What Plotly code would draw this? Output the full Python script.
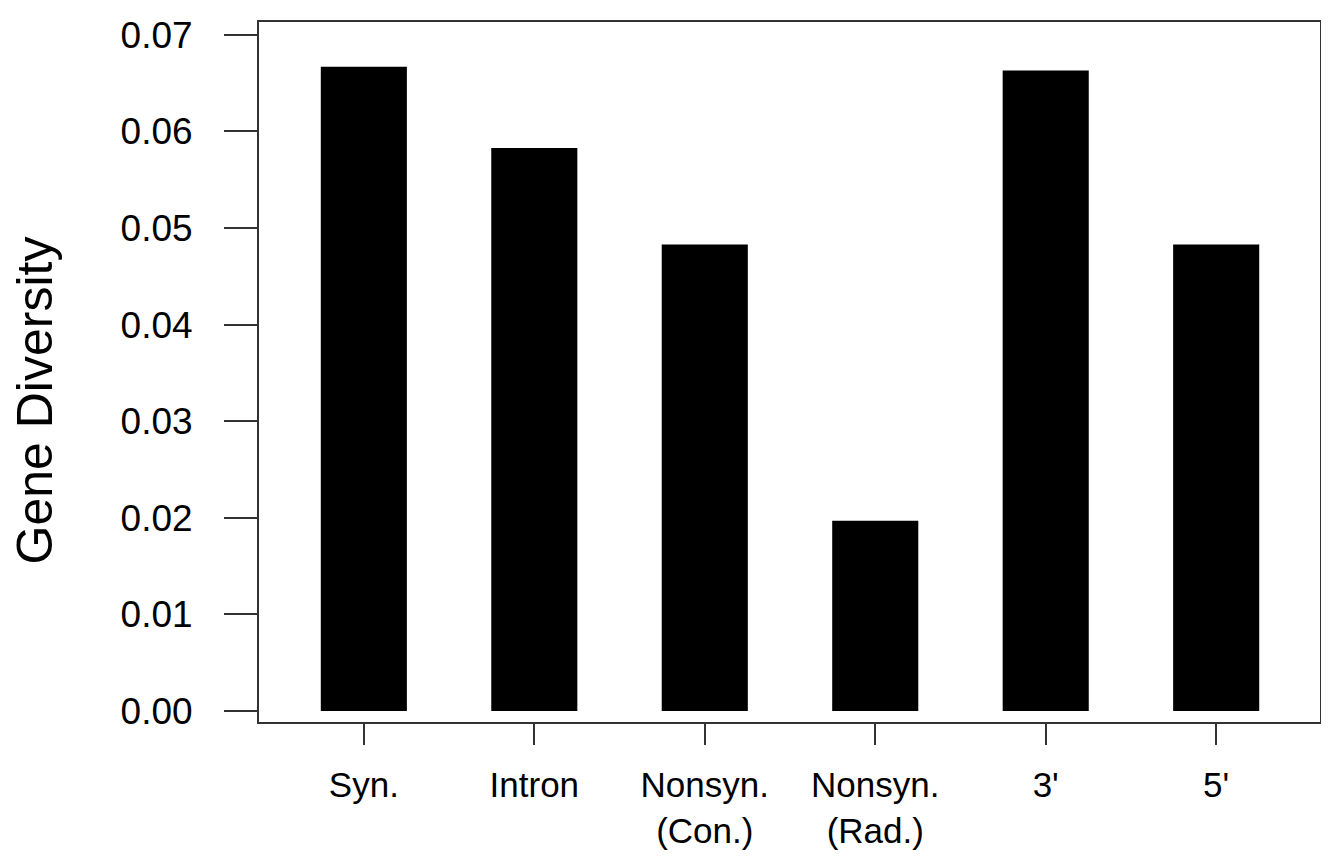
import plotly.graph_objects as go

categories = ["Syn.", "Intron", "Nonsyn.<br>(Con.)", "Nonsyn.<br>(Rad.)", "3'", "5'"]
values = [0.0667, 0.0583, 0.0483, 0.0197, 0.0663, 0.0483]
y_ticks = [0.00, 0.01, 0.02, 0.03, 0.04, 0.05, 0.06, 0.07]
y_ticklabels = ["0.00", "0.01", "0.02", "0.03", "0.04", "0.05", "0.06", "0.07"]
positions = list(range(len(categories)))

FONT = "Liberation Sans, Arial, sans-serif"

fig = go.Figure(
    go.Bar(
        x=positions,
        y=values,
        width=0.505,
        marker=dict(color="black", line=dict(width=0)),
    )
)

fig.update_layout(
    width=1321,
    height=852,
    margin=dict(l=251, r=7, t=8, b=138),
    paper_bgcolor="white",
    plot_bgcolor="white",
    showlegend=False,
    font=dict(family=FONT, size=36, color="black"),
    xaxis=dict(
        range=[-0.615, 5.609],
        tickmode="array",
        tickvals=positions,
        ticktext=categories,
        ticks="outside",
        ticklen=21,
        tickwidth=2,
        tickcolor="#333333",
        showline=True,
        linecolor="#333333",
        linewidth=2,
        mirror=True,
        showgrid=False,
        zeroline=False,
        ticklabelstandoff=10,
        tickfont=dict(family=FONT, size=35, color="black"),
    ),
    yaxis=dict(
        range=[-0.00113, 0.07133],
        tickmode="array",
        tickvals=y_ticks,
        ticktext=y_ticklabels,
        ticks="outside",
        ticklen=33,
        tickwidth=2,
        tickcolor="#333333",
        showline=True,
        linecolor="#333333",
        linewidth=2,
        mirror=True,
        showgrid=False,
        zeroline=False,
        ticklabelstandoff=24,
        tickfont=dict(family=FONT, size=37, color="black"),
    ),
    annotations=[
        dict(
            text="Gene Diversity",
            xref="paper",
            yref="paper",
            x=-0.2107,
            y=0.46,
            xanchor="center",
            yanchor="middle",
            textangle=-90,
            showarrow=False,
            font=dict(family=FONT, size=50, color="black"),
        )
    ],
)

fig.write_html("out.html")
